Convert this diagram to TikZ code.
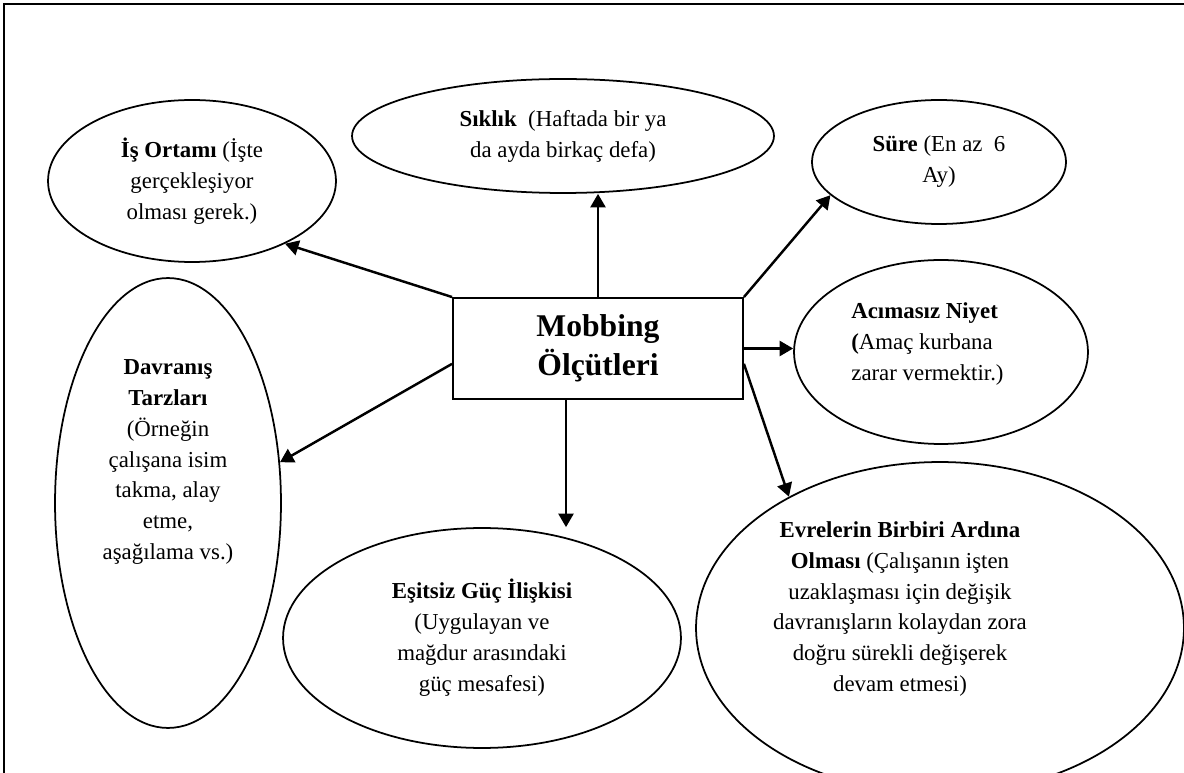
\documentclass[tikz,border=0pt]{standalone}
\usepackage{fontspec}
\setmainfont{Liberation Serif}
\usetikzlibrary{positioning,arrows.meta,shapes.geometric}
\tikzset{
  bubble/.style={ellipse, draw, line width=1pt, inner sep=0pt, align=center, font=\fontsize{13}{17.6}\selectfont},
  txt/.style={align=center, inner sep=0pt, font=\fontsize{13}{17.6}\selectfont},
  hub/.style={rectangle, draw, line width=1.1pt, minimum width=5.8cm, minimum height=2.02cm, align=center, font=\fontsize{18}{22}\selectfont\bfseries},
  fwd/.style={-{Triangle[length=2.7mm, width=3mm]}, line width=1.4pt},
}

\begin{document}
\begin{tikzpicture}[x=0.02cm, y=-0.02cm]
  \useasboundingbox (0,0) rectangle (1184,773);
  \draw[line width=1.2pt] (4,790) -- (4,4) -- (1200,4);

  \node[hub] (mobbing) at (598,348.5) {Mobbing\\Ölçütleri};

  \node[bubble, minimum width=5.76cm, minimum height=3.24cm] (ortam) at (192,181) {\textbf{İş Ortamı} (İşte\\gerçekleşiyor\\olması gerek.)};
  \node[bubble, minimum width=8.44cm, minimum height=2.28cm] (siklik) at (563,136) {\textbf{Sıklık}\ \ (Haftada bir ya\\da ayda birkaç defa)};
  \node[bubble, minimum width=5.08cm, minimum height=2.48cm] (sure) at (939,162) {\textbf{Süre} (En az\ \ 6\\Ay)};
  \node[bubble, minimum width=5.88cm, minimum height=3.68cm] (niyet) at (941,352) {};
  \node[txt, align=left, anchor=west] (niyettxt) at (851,344) {\textbf{Acımasız Niyet}\\\textbf{(}Amaç kurbana\\zarar vermektir.)};
  \node[bubble, minimum width=4.52cm, minimum height=9cm] (davranis) at (168,503) {};
  \node[txt] (davranistxt) at (168,462) {\textbf{Davranış}\\\textbf{Tarzları}\\(Örneğin\\çalışana isim\\takma, alay\\etme,\\aşağılama vs.)};
  \node[bubble, minimum width=7.96cm, minimum height=4.4cm] (guc) at (482,638) {\textbf{Eşitsiz Güç İlişkisi}\\(Uygulayan ve\\mağdur arasındaki\\güç mesafesi)};
  \node[bubble, minimum width=9.76cm, minimum height=6.64cm] (evre) at (940,628) {};
  \node[txt] (evretxt) at (900,609) {\textbf{Evrelerin Birbiri Ardına}\\\textbf{Olması} (Çalışanın işten\\uzaklaşması için değişik\\davranışların kolaydan zora\\doğru sürekli değişerek\\devam etmesi)};

  \coordinate (gucstart) at ([xshift=-0.64cm]mobbing.south);

  \draw[fwd] (mobbing.north west) -- (ortam.-34);
  \draw[fwd] (mobbing.north) -- (mobbing.north |- siklik.south);
  \draw[fwd] (mobbing.north east) -- (sure.197);
  \draw[fwd] (mobbing.east) -- (mobbing.east -| niyet.west);
  \draw[fwd] (mobbing.-6.5) -- (evre.139);
  \draw[fwd] (gucstart) -- (gucstart |- guc.north);
  \draw[fwd] (mobbing.186.5) -- (davranis.20);

\end{tikzpicture}
\end{document}
